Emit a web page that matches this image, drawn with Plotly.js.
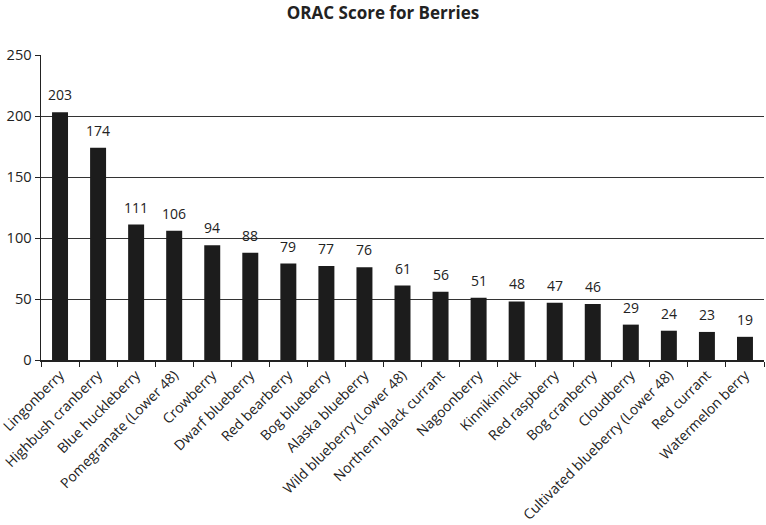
<!DOCTYPE html>
<html>
<head>
<meta charset="utf-8">
<script src="https://cdn.plot.ly/plotly-3.0.1.min.js"></script>
<style>html,body{margin:0;padding:0;background:#fff;}#chart{width:766px;height:525px;}</style>
</head>
<body>
<div id="chart"></div>
<script>
var berries = ["Lingonberry","Highbush cranberry","Blue huckleberry","Pomegranate (Lower 48)","Crowberry","Dwarf blueberry","Red bearberry","Bog blueberry","Alaska blueberry","Wild blueberry (Lower 48)","Northern black currant","Nagoonberry","Kinnikinnick","Red raspberry","Bog cranberry","Cloudberry","Cultivated blueberry (Lower 48)","Red currant","Watermelon berry"];
var oracScores = [203,174,111,106,94,88,79,77,76,61,56,51,48,47,46,29,24,23,19];
var yTicks = [0,50,100,150,200,250];

var font = "'Open Sans', 'Liberation Sans', sans-serif";
var annotations = berries.map(function(b,i){
  return {x:b, y:oracScores[i], text:String(oracScores[i]), showarrow:false,
    xanchor:'center', yanchor:'bottom', yshift:6,
    font:{family:font, size:14, color:'#222'}};
});

Plotly.newPlot('chart', [{
  type:'bar', x:berries, y:oracScores,
  marker:{color:'#1c1c1c', line:{width:0}},
  width:0.42, hoverinfo:'none'
}], {
  width:766, height:525,
  margin:{l:41, r:2, t:55, b:165, pad:0},
  paper_bgcolor:'#fff', plot_bgcolor:'#fff',
  title:{text:'<b>ORAC Score for Berries</b>', x:0.5, xanchor:'center', y:0.975, yanchor:'middle',
    font:{family:font, size:17, color:'#222'}},
  showlegend:false,
  bargap:0.58,
  xaxis:{type:'category', tickangle:-45, tickson:'boundaries', ticks:'outside', ticklen:5, tickcolor:'#222',
    showline:true, linecolor:'#222', linewidth:1.5, showgrid:false,
    tickfont:{family:font, size:14, color:'#222'}, fixedrange:true},
  yaxis:{range:[0,250], tickvals:yTicks, ticks:'outside', ticklen:5, tickcolor:'#222',
    showline:true, linecolor:'#222', linewidth:1.5,
    showgrid:true, gridcolor:'#333', gridwidth:1, zeroline:false,
    tickfont:{family:font, size:14.6, color:'#222'}, fixedrange:true},
  annotations:annotations
}, {displayModeBar:false, staticPlot:true});
</script>
</body>
</html>
